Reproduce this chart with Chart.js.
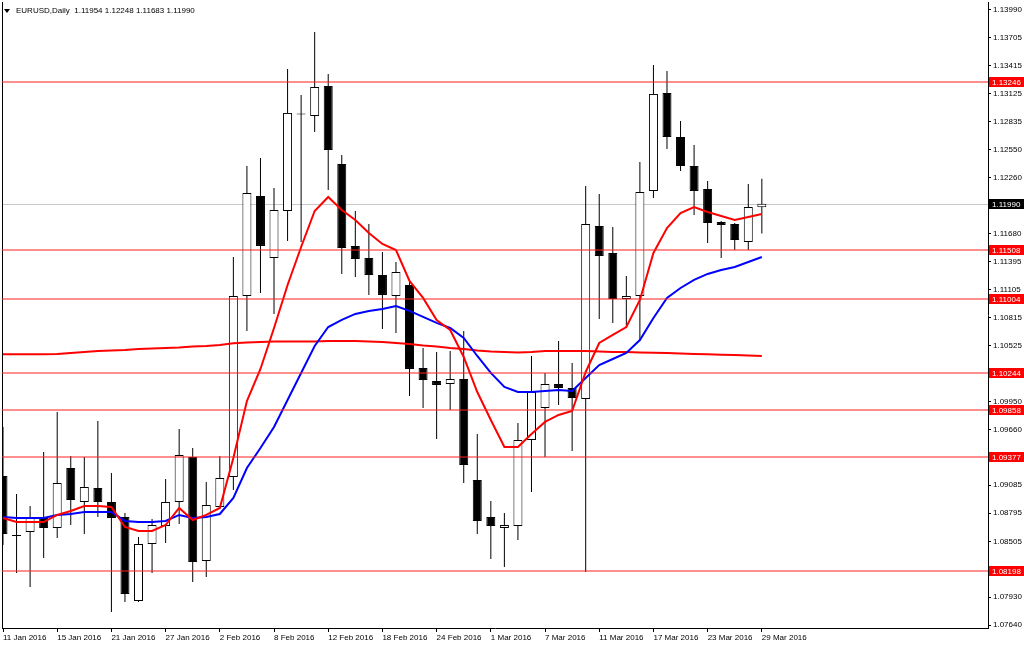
<!DOCTYPE html>
<html>
<head>
<meta charset="utf-8">
<script src="https://cdn.jsdelivr.net/npm/chart.js@4.4.0/dist/chart.umd.min.js"></script>
<style>
html, body { margin: 0; padding: 0; background: #fff; }
#wrap { width: 1024px; height: 646px; }
</style>
</head>
<body>
<div id="wrap"><canvas id="chart" width="1024" height="646"></canvas></div>
<script>
// EURUSD daily, 11 Jan - 29 Mar 2016
const symbol = "EURUSD,Daily";
const days = [
    "11 Jan 2016", "12 Jan 2016", "13 Jan 2016", "14 Jan 2016", "15 Jan 2016",
    "18 Jan 2016", "19 Jan 2016", "20 Jan 2016", "21 Jan 2016", "22 Jan 2016",
    "25 Jan 2016", "26 Jan 2016", "27 Jan 2016", "28 Jan 2016", "29 Jan 2016",
    "1 Feb 2016", "2 Feb 2016", "3 Feb 2016", "4 Feb 2016", "5 Feb 2016",
    "8 Feb 2016", "9 Feb 2016", "10 Feb 2016", "11 Feb 2016", "12 Feb 2016",
    "15 Feb 2016", "16 Feb 2016", "17 Feb 2016", "18 Feb 2016", "19 Feb 2016",
    "22 Feb 2016", "23 Feb 2016", "24 Feb 2016", "25 Feb 2016", "26 Feb 2016",
    "29 Feb 2016", "1 Mar 2016", "2 Mar 2016", "3 Mar 2016", "4 Mar 2016",
    "7 Mar 2016", "8 Mar 2016", "9 Mar 2016", "10 Mar 2016", "11 Mar 2016",
    "14 Mar 2016", "15 Mar 2016", "16 Mar 2016", "17 Mar 2016", "18 Mar 2016",
    "21 Mar 2016", "22 Mar 2016", "23 Mar 2016", "24 Mar 2016", "25 Mar 2016",
    "28 Mar 2016", "29 Mar 2016"
];
const open = [
    1.09179, 1.08570, 1.08601, 1.08756, 1.08643, 1.09262, 1.08911, 1.09056, 1.08911, 1.08756,
    1.07889, 1.08477, 1.08663, 1.08911, 1.09375, 1.08302, 1.08859, 1.09169, 1.11038, 1.12070,
    1.11430, 1.11915, 1.12921, 1.12896, 1.13205, 1.12400, 1.11554, 1.11430, 1.11254, 1.11038,
    1.11151, 1.10294, 1.10160, 1.10129, 1.10181, 1.09138, 1.08756, 1.08643, 1.08663, 1.09551,
    1.09881, 1.10129, 1.10088, 1.09974, 1.11760, 1.11481, 1.11006, 1.11038, 1.12121, 1.13133,
    1.12679, 1.12379, 1.12142, 1.11801, 1.11781, 1.11595, 1.11954
];
const high = [
    1.09685, 1.08993, 1.08870, 1.09427, 1.09840, 1.09386, 1.09375, 1.09747, 1.09210, 1.08797,
    1.08550, 1.08735, 1.09148, 1.09664, 1.09468, 1.09117, 1.09386, 1.11440, 1.12379, 1.12462,
    1.12152, 1.13381, 1.13112, 1.13763, 1.13329, 1.12493, 1.11915, 1.11781, 1.11492, 1.11388,
    1.11192, 1.10501, 1.10459, 1.10470, 1.10676, 1.09613, 1.08921, 1.08797, 1.09726, 1.10418,
    1.10243, 1.10573, 1.10346, 1.12173, 1.12090, 1.11750, 1.11244, 1.12421, 1.13422, 1.13360,
    1.12844, 1.12596, 1.12225, 1.11811, 1.11791, 1.12194, 1.12248
];
const low = [
    1.08467, 1.08178, 1.08033, 1.08333, 1.08539, 1.08673, 1.08581, 1.08756, 1.07775, 1.07879,
    1.07879, 1.08178, 1.08488, 1.08684, 1.08085, 1.08137, 1.08839, 1.09035, 1.10676, 1.11068,
    1.10852, 1.11605, 1.11595, 1.12730, 1.12132, 1.11265, 1.11234, 1.11048, 1.10697, 1.10655,
    1.10005, 1.09881, 1.09561, 1.09861, 1.09107, 1.08581, 1.08322, 1.08240, 1.08519, 1.09014,
    1.09375, 1.09912, 1.09437, 1.08188, 1.10800, 1.10759, 1.10717, 1.10573, 1.12049, 1.12555,
    1.12328, 1.11874, 1.11584, 1.11430, 1.11512, 1.11512, 1.11683
];
const close = [
    1.08581, 1.08560, 1.08746, 1.08643, 1.09107, 1.08932, 1.09066, 1.08911, 1.08746, 1.07961,
    1.08477, 1.08673, 1.08911, 1.09396, 1.08291, 1.08880, 1.09159, 1.11038, 1.12101, 1.11554,
    1.11925, 1.12927, 1.12911, 1.13195, 1.12545, 1.11533, 1.11419, 1.11254, 1.11048, 1.11285,
    1.10284, 1.10170, 1.10119, 1.10181, 1.09293, 1.08715, 1.08663, 1.08673, 1.09551, 1.10046,
    1.10129, 1.10088, 1.09984, 1.11781, 1.11450, 1.11006, 1.11038, 1.12111, 1.13123, 1.12679,
    1.12379, 1.12121, 1.11791, 1.11770, 1.11615, 1.11956, 1.11990
];
// moving averages
const maFast = [
    1.08746, 1.08704, 1.08704, 1.08704, 1.08777, 1.08818, 1.08870, 1.08870, 1.08859, 1.08653,
    1.08612, 1.08612, 1.08673, 1.08849, 1.08725, 1.08777, 1.08849, 1.09365, 1.09953, 1.10284,
    1.10707, 1.11151, 1.11543, 1.11915, 1.12059, 1.11925, 1.11822, 1.11688, 1.11574, 1.11512,
    1.11192, 1.11017, 1.10790, 1.10686, 1.10408, 1.10046, 1.09757, 1.09479, 1.09479, 1.09613,
    1.09737, 1.09809, 1.09850, 1.10253, 1.10552, 1.10635, 1.10717, 1.10996, 1.11481, 1.11739,
    1.11894, 1.11956, 1.11905, 1.11863, 1.11822, 1.11853, 1.11884
];
const maMid = [
    1.08756, 1.08746, 1.08746, 1.08746, 1.08777, 1.08787, 1.08808, 1.08808, 1.08808, 1.08715,
    1.08704, 1.08704, 1.08715, 1.08777, 1.08746, 1.08756, 1.08787, 1.08952, 1.09262, 1.09468,
    1.09685, 1.09964, 1.10243, 1.10521, 1.10717, 1.10790, 1.10852, 1.10883, 1.10903, 1.10934,
    1.10883, 1.10821, 1.10759, 1.10707, 1.10604, 1.10418, 1.10243, 1.10098, 1.10046, 1.10046,
    1.10057, 1.10067, 1.10057, 1.10191, 1.10325, 1.10387, 1.10449, 1.10583, 1.10810, 1.11017,
    1.11120, 1.11203, 1.11265, 1.11306, 1.11337, 1.11388, 1.11440
];
const maSlow = [
    1.10436, 1.10436, 1.10436, 1.10436, 1.10439, 1.10449, 1.10459, 1.10470, 1.10475, 1.10480,
    1.10490, 1.10495, 1.10501, 1.10506, 1.10516, 1.10521, 1.10532, 1.10549, 1.10557, 1.10563,
    1.10568, 1.10568, 1.10568, 1.10568, 1.10573, 1.10573, 1.10573, 1.10568, 1.10563, 1.10552,
    1.10542, 1.10526, 1.10516, 1.10501, 1.10490, 1.10475, 1.10465, 1.10459, 1.10454, 1.10459,
    1.10470, 1.10470, 1.10470, 1.10470, 1.10465, 1.10459, 1.10459, 1.10454, 1.10452, 1.10449,
    1.10444, 1.10439, 1.10436, 1.10431, 1.10428, 1.10423, 1.10418
];
const levels = [1.13246, 1.11508, 1.11004, 1.10244, 1.09858, 1.09377, 1.08198];
const lastPrice = 1.11990;
const priceTicks = [
    1.13990, 1.13705, 1.13415, 1.13125, 1.12835, 1.12550, 1.12260, 1.11680, 1.11395, 1.11105,
    1.10815, 1.10525, 1.09950, 1.09660, 1.09085, 1.08795, 1.08505, 1.07930, 1.07640
];
const labelStep = 4;

const FONT = "Liberation Sans, Arial, sans-serif";
const up = close.map((c, i) => c >= open[i]);
const wicks = days.map((d, i) => ({ x: i, y: [low[i], high[i]] }));
const bodies = days.map((d, i) => ({ x: i, y: [Math.min(open[i], close[i]), Math.max(open[i], close[i])] }));
const asLine = arr => arr.map((v, i) => ({ x: i, y: v }));

function hline(ctx, a, py, color, width) {
    ctx.strokeStyle = color;
    ctx.lineWidth = width;
    ctx.beginPath();
    ctx.moveTo(a.left, py);
    ctx.lineTo(a.right, py);
    ctx.stroke();
}

function priceBox(ctx, a, py, text, fill) {
    ctx.fillStyle = fill;
    ctx.fillRect(a.right + 1, py - 5, 35, 10);
    ctx.fillStyle = "#fff";
    ctx.font = "8px " + FONT;
    ctx.textAlign = "left";
    ctx.textBaseline = "middle";
    ctx.fillText(text, a.right + 4, py + 0.5);
}

const overlay = {
    id: "overlay",
    beforeDatasetsDraw(chart) {
        const { ctx, chartArea: a, scales: { y } } = chart;
        ctx.save();
        hline(ctx, a, Math.round(y.getPixelForValue(lastPrice)) + 0.5, "#c8c8c8", 1);
        ctx.strokeStyle = "#000";
        ctx.lineWidth = 1;
        ctx.beginPath();
        ctx.moveTo(a.left + 0.5, a.top);
        ctx.lineTo(a.left + 0.5, a.bottom);
        ctx.stroke();
        ctx.restore();
    },
    afterDatasetsDraw(chart) {
        const { ctx, chartArea: a, scales: { y } } = chart;
        ctx.save();
        levels.forEach(v => hline(ctx, a, Math.round(y.getPixelForValue(v)), "#ff2020", 1.2));
        // header
        ctx.fillStyle = "#000";
        ctx.beginPath();
        ctx.moveTo(4, 9);
        ctx.lineTo(10, 9);
        ctx.lineTo(7, 13);
        ctx.closePath();
        ctx.fill();
        ctx.font = "8px " + FONT;
        ctx.textAlign = "left";
        ctx.textBaseline = "middle";
        const n = close.length - 1;
        const head = symbol + "  " + [open[n], high[n], low[n], close[n]].map(v => v.toFixed(5)).join(" ");
        ctx.fillText(head, 16, 11);
        ctx.restore();
    },
    afterDraw(chart) {
        const { ctx, chartArea: a, scales: { y } } = chart;
        ctx.save();
        levels.forEach(v => priceBox(ctx, a, Math.round(y.getPixelForValue(v)), v.toFixed(5), "#ff0000"));
        priceBox(ctx, a, Math.round(y.getPixelForValue(lastPrice)), lastPrice.toFixed(5), "#000");
        ctx.restore();
    }
};

new Chart(document.getElementById("chart"), {
    type: "bar",
    data: {
        datasets: [
            {
                type: "line",
                label: "MA fast",
                data: asLine(maFast),
                borderColor: "#ff0000",
                borderWidth: 2,
                pointRadius: 0,
                tension: 0,
                order: 1
            },
            {
                type: "line",
                label: "MA mid",
                data: asLine(maMid),
                borderColor: "#0000ff",
                borderWidth: 2,
                pointRadius: 0,
                tension: 0,
                order: 2
            },
            {
                type: "line",
                label: "MA slow",
                data: asLine(maSlow),
                borderColor: "#ff0000",
                borderWidth: 2,
                pointRadius: 0,
                tension: 0,
                order: 3
            },
            {
                label: "Body",
                data: bodies,
                backgroundColor: up.map(u => (u ? "#ffffff" : "#000000")),
                borderColor: "#000000",
                borderWidth: 1,
                borderSkipped: false,
                inflateAmount: 0,
                minBarLength: 1,
                barThickness: 9,
                maxBarThickness: 9,
                grouped: false,
                order: 4
            },
            {
                label: "Wick",
                data: wicks,
                backgroundColor: "#000000",
                borderWidth: 0,
                inflateAmount: 0,
                barThickness: 1,
                maxBarThickness: 1,
                grouped: false,
                order: 5
            }
        ]
    },
    options: {
        responsive: false,
        animation: false,
        devicePixelRatio: 1,
        layout: { padding: { left: 2, top: 2, right: 0, bottom: 0 } },
        plugins: {
            legend: { display: false },
            tooltip: { enabled: false }
        },
        scales: {
            x: {
                type: "linear",
                min: -0.074,
                max: 72.69,
                offset: false,
                afterBuildTicks: s => {
                    s.ticks = days.map((d, i) => i).filter(i => i % labelStep === 0).map(v => ({ value: v }));
                },
                afterFit: s => {
                    s.height = 18;
                    s.paddingLeft = 0;
                    s.paddingRight = 0;
                },
                ticks: {
                    callback: v => days[v],
                    autoSkip: false,
                    maxRotation: 0,
                    align: "start",
                    padding: 1,
                    color: "#000",
                    font: { family: FONT, size: 8 }
                },
                grid: { offset: false, drawOnChartArea: false, tickLength: 4, color: "#000" },
                border: { display: true, color: "#000" }
            },
            y: {
                type: "linear",
                position: "right",
                min: 1.07610,
                max: 1.14072,
                beginAtZero: false,
                afterBuildTicks: s => {
                    s.ticks = priceTicks.map(v => ({ value: v }));
                },
                afterFit: s => {
                    s.width = 36;
                    s.paddingTop = 0;
                    s.paddingBottom = 0;
                },
                ticks: {
                    callback: v => v.toFixed(5),
                    padding: 2,
                    color: "#000",
                    font: { family: FONT, size: 8 }
                },
                grid: { drawOnChartArea: false, tickLength: 3, color: "#000" },
                border: { display: true, color: "#000" }
            }
        }
    },
    plugins: [overlay]
});
</script>
</body>
</html>
